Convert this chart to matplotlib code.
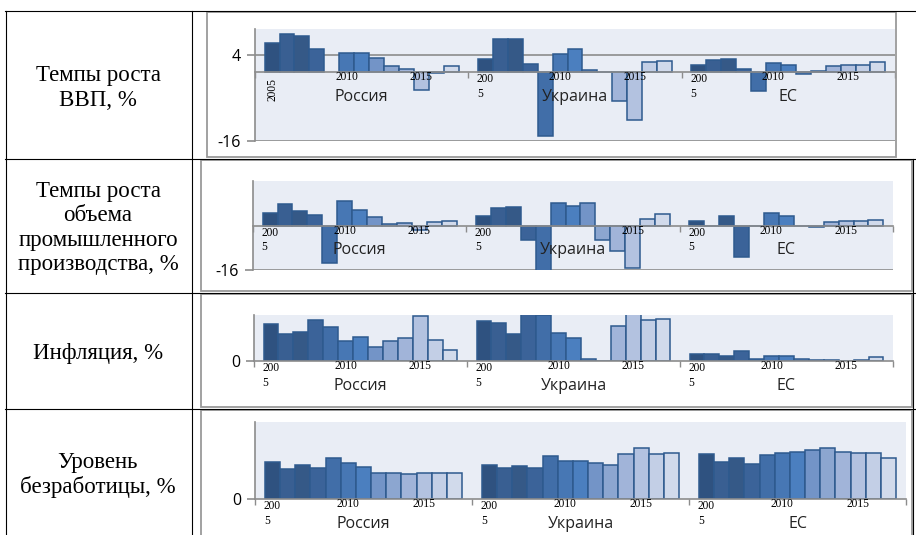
import matplotlib
matplotlib.use('Agg')
import matplotlib.pyplot as plt
import numpy as np
from matplotlib.patches import Rectangle
from matplotlib.lines import Line2D

W, H = 916, 535

years = list(range(2005, 2018))
countries = ['Россия', 'Украина', 'ЕС']
row_titles = ['Темпы роста\nВВП, %',
              'Темпы роста\nобъема\nпромышленного\nпроизводства, %',
              'Инфляция, %',
              'Уровень\nбезработицы, %']

# ВВП, %
gdp_ru = [6.7, 8.8, 8.3, 5.3, np.nan, 4.5, 4.5, 3.3, 1.3, 0.7, -4.1, -0.3, 1.4]
gdp_ua = [3.0, 7.6, 7.6, 1.9, -14.8, 4.2, 5.3, 0.4, 0.0, -6.7, -11.1, 2.3, 2.5]
gdp_eu = [1.7, 2.8, 3.1, 0.8, -4.4, 2.1, 1.6, -0.4, 0.3, 1.4, 1.7, 1.7, 2.4]

# промышленное производство, %
ind_ru = [4.6, 7.9, 5.2, 3.9, -13.6, 8.7, 5.5, 3.2, 0.6, 0.8, -1.7, 1.1, 1.5]
ind_ua = [3.4, 6.4, 6.8, -5.1, -21.9, 8.2, 7.0, 8.0, -5.1, -9.0, -15.4, 2.2, 4.0]
ind_eu = [1.7, -0.3, 3.4, -11.2, 0.0, 4.4, 3.3, 0.0, -0.5, 1.1, 1.7, 1.7, 2.1]

# инфляция, %
inf_ru = [12.8, 9.3, 10.0, 14.3, 11.8, 7.0, 8.5, 5.0, 7.0, 7.9, 15.6, 7.3, 3.8]
inf_ua = [13.8, 13.2, 9.4, 25.2, 15.9, 9.7, 7.9, 0.6, -0.3, 12.2, 48.7, 14.1, 14.6]
inf_eu = [2.3, 2.3, 1.9, 3.5, 0.7, 1.9, 1.9, 0.7, 0.4, 0.2, 0.1, 0.2, 1.5]

# безработица, %
une_ru = [7.7, 6.2, 7.1, 6.4, 8.5, 7.5, 6.6, 5.4, 5.4, 5.2, 5.4, 5.4, 5.4]
une_ua = [7.1, 6.4, 6.8, 6.4, 8.9, 8.0, 7.8, 7.5, 7.1, 9.3, 10.6, 9.3, 9.6]
une_eu = [9.4, 7.6, 8.5, 7.3, 9.1, 9.6, 9.8, 10.2, 10.7, 9.8, 9.5, 9.5, 8.5]

year_colors = ['#2F5280', '#395F92', '#355987', '#3B6399', '#416EA8', '#4777B4',
               '#4B7FBF', '#7394C7', '#8CA6D0', '#A1B4D9', '#B3C2E0', '#C3CFE6', '#D1DAEB']
edge = '#2E5A8E'
face = '#E9EDF5'
axis_gray = '#8C8C8C'
sans = 'Open Sans'
serif = 'Liberation Serif'

fig = plt.figure(figsize=(W / 100, H / 100), dpi=100)


def px_rect(x0, y0, x1, y1):
    return [x0 / W, 1 - y1 / H, (x1 - x0) / W, (y1 - y0) / H]


def hline(y, x0, x1, color='black', lw=0.8):
    fig.add_artist(Line2D([x0 / W, x1 / W], [1 - y / H, 1 - y / H], color=color, lw=lw,
                          transform=fig.transFigure))


def vline(x, y0, y1, color='black', lw=0.8):
    fig.add_artist(Line2D([x / W, x / W], [1 - y0 / H, 1 - y1 / H], color=color, lw=lw,
                          transform=fig.transFigure))


# chart frames
frames = [(207, 12, 896, 157), (201, 160, 912, 291), (201, 294, 912, 407), (201, 410, 912, 540)]
for x0, y0, x1, y1 in frames:
    fig.add_artist(Rectangle((x0 / W, 1 - y1 / H), (x1 - x0) / W, (y1 - y0) / H,
                             transform=fig.transFigure, fill=False, ec='#9A9A9A', lw=1.3))

# table grid
for y in [10.5, 158.5, 292.5, 408.5]:
    hline(y, 5, 916)
vline(5.5, 10.5, 535)
vline(191.5, 10.5, 535)
vline(912.5, 158.5, 535)

# row titles
title_y = [88, 228, 353, 475]
for t, y in zip(row_titles, title_y):
    fig.text(98 / W, 1 - y / H, t, ha='center', va='center', fontsize=16.5,
             family=serif, linespacing=1.2)

charts = [
    dict(rect=(255, 29, 895, 141), ylim=(-16, 10), yticks=[-16, 4], grid=True,
         data=[gdp_ru, gdp_ua, gdp_eu], hide=[]),
    dict(rect=(253, 181, 893, 270), ylim=(-16, 16), yticks=[-16], grid=True,
         data=[ind_ru, ind_ua, ind_eu], hide=[(1, 2010)]),
    dict(rect=(254, 315, 893, 361), ylim=(0, 16), yticks=[0], grid=False,
         data=[inf_ru, inf_ua, inf_eu], hide=[]),
    dict(rect=(255, 422, 906, 499), ylim=(0, 16), yticks=[0], grid=False,
         data=[une_ru, une_ua, une_eu], hide=[]),
]

gap = 0.09
bw = (1 - gap) / len(years)
px = 0.72  # points per pixel

for k, ch in enumerate(charts):
    ax = fig.add_axes(px_rect(*ch['rect']))
    ax.set_facecolor(face)
    ax.set_xlim(0, 3)
    ax.set_ylim(*ch['ylim'])
    for c, vals in enumerate(ch['data']):
        xs = c + gap / 2 + (np.arange(len(years)) + 0.5) * bw
        ax.bar(xs, vals, width=bw, color=year_colors, edgecolor=edge, linewidth=1.1, zorder=3)
        # year marks
        for yr in [2005, 2010, 2015]:
            if (c, yr) in ch['hide']:
                continue
            xc = xs[yr - 2005]
            if yr == 2005 and k == 0 and c == 0:
                ax.annotate('2005', xy=(xc, 0), xytext=(0, -6 * px), textcoords='offset points',
                            ha='center', va='top', rotation=90, fontsize=8.3, family=serif,
                            annotation_clip=False, zorder=5)
            elif yr == 2005:
                ax.annotate('200\n5', xy=(xc, 0), xytext=(0, -1 * px), textcoords='offset points',
                            ha='center', va='top', multialignment='left', fontsize=8.3,
                            family=serif, linespacing=1.3, annotation_clip=False, zorder=5)
            else:
                ax.annotate(str(yr), xy=(xc, 0), xytext=(0, -5 * px), textcoords='offset points',
                            ha='center', va='center', fontsize=8.3, family=serif,
                            annotation_clip=False, zorder=5)
        ax.annotate(countries[c], xy=(c + 0.5, 0), xytext=(0, -25 * px), textcoords='offset points',
                    ha='center', va='center', fontsize=11.5, family=sans, color='#222222',
                    annotation_clip=False, zorder=5)

    for s in ['top', 'right']:
        ax.spines[s].set_visible(False)
    ax.spines['left'].set_color(axis_gray)
    ax.spines['left'].set_linewidth(1.2)
    ax.spines['bottom'].set_position(('data', 0))
    ax.spines['bottom'].set_color(axis_gray)
    ax.spines['bottom'].set_linewidth(1.2)
    ax.spines['bottom'].set_zorder(4)
    ax.set_xticks([0, 1, 2, 3])
    ax.set_xticklabels([])
    ax.tick_params(axis='x', direction='out', length=4, width=1, color=axis_gray)
    ax.set_yticks(ch['yticks'])
    ax.set_yticklabels([str(v) for v in ch['yticks']], family=sans, fontsize=11.5)
    ax.tick_params(axis='y', direction='out', length=6, width=1.2, color=axis_gray, pad=4)
    if ch['grid']:
        ax.yaxis.grid(True, color=axis_gray, lw=1.2)
        ax.set_axisbelow(True)

fig.savefig('out.png', dpi=100)
